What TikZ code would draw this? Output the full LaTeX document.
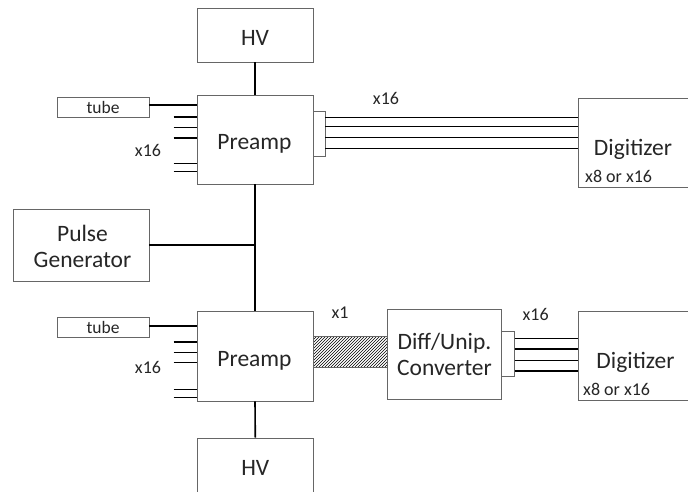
\documentclass[tikz,border=0pt]{standalone}
\usepackage{fontspec}
\setmainfont{Carlito}
\usetikzlibrary{patterns}
\begin{document}
\begin{tikzpicture}[x=1pt,y=-1pt,
  box/.style={draw=black!60, line width=0.8pt, fill=white, inner sep=0pt, align=center,
    font=\fontsize{23.5}{26.7}\selectfont, text=black!85},
  smallbox/.style={draw=black!60, line width=0.8pt, fill=white, inner sep=0pt,
    font=\fontsize{17.5}{20}\selectfont, text=black!85},
  lbl/.style={inner sep=0pt, font=\fontsize{18}{20}\selectfont, text=black!85},
  big/.style={inner sep=0pt, font=\fontsize{23.5}{26.7}\selectfont, text=black!85},
  wire/.style={line width=1.3pt, black},
  bus/.style={line width=1.6pt, black}]
\useasboundingbox (0,0) rectangle (688,491);

% boxes on the backbone
\node[box, minimum width=116pt, minimum height=54pt] (hvT) at (255,35) {};
\node[box, minimum width=116pt, minimum height=89pt] (preT) at (255,139.5) {};
\node[box, minimum width=116pt, minimum height=89.3pt] (preB) at (255,356.3) {};
\node[box, minimum width=116pt, minimum height=70pt] (hvB) at (255.3,473) {};
\node[box, minimum width=135.7pt, minimum height=72pt] (pulse) at (81.2,245) {};

\draw[bus] (hvT.south) -- (preT.north);
\draw[bus] (preT.south) -- (preB.north);
\draw[bus] (preB.south) -- (hvB.north);
\draw[wire] (pulse.east) -- (pulse.east -| preT.south);

% texts of the main boxes
\node[big] (hvTt) at (255,38.3) {HV};
\node[big] (preTt) at (254.5,144) {Preamp};
\node[big] (preBt) at (254.5,360.5) {Preamp};
\node[big] (hvBt) at (255.3,468) {HV};
\node[big, align=center] (pulset) at (82.5,246.5) {Pulse\\Generator};

% tubes and input stubs
\node[smallbox, minimum width=92pt, minimum height=20pt] (tubeT) at (103,107.5) {tube};
\node[smallbox, minimum width=92pt, minimum height=20pt] (tubeB) at (103,327.5) {tube};
\draw[wire] ([yshift=2.5pt]tubeT.east) -- ([yshift=2.5pt]tubeT.east -| preT.west);
\draw[wire] ([yshift=1.5pt]tubeB.east) -- ([yshift=1.5pt]tubeB.east -| preB.west);
\foreach \d in {22.3,32.7,43.3,69,76.7}
  \draw[wire] ([shift={(-23,\d)}]preT.north west) -- ([shift={(0,\d)}]preT.north west);
\foreach \d in {30.6,41,51.3,78.3,86}
  \draw[wire] ([shift={(-23,\d)}]preB.north west) -- ([shift={(0,\d)}]preB.north west);
\node[lbl] (x16a) at (148,150) {x16};
\node[lbl] (x16b) at (148,367) {x16};

% top readout chain
\node[box, minimum width=12pt, minimum height=44.3pt] (connT) at (319,133.8) {};
\node[box, minimum width=122pt, minimum height=89pt] (digT) at (639,142.8) {};
\foreach \yy in {117.3,126.7,137.3,148.3}
  \draw[wire] (connT.east |- 0,\yy) -- (digT.west |- 0,\yy);
\node[big] (digTt) at (633,149.5) {Digitizer};
\node[lbl, anchor=west] (digTs) at (585,176) {x8 or x16};
\node[lbl] (x16c) at (386,98) {x16};

% bottom readout chain
\node[draw=black!60, line width=0.8pt, pattern=north east lines, minimum width=74pt, minimum height=31pt, inner sep=0pt] (hatch) at (350,352.2) {};
\node[lbl] (x1) at (340,313) {x1};
\node[box, minimum width=114.4pt, minimum height=90pt] (conv) at (444.5,354.3) {Diff/Unip.\\Converter};
\node[box, minimum width=12.6pt, minimum height=45pt] (connB) at (508,353.5) {};
\node[box, minimum width=121.7pt, minimum height=89pt] (digB) at (639.2,356.2) {};
\foreach \yy in {338.3,349,360.7,371}
  \draw[wire] (connB.east |- 0,\yy) -- (digB.west |- 0,\yy);
\node[big] (digBt) at (635.5,362) {Digitizer};
\node[lbl, anchor=west] (digBs) at (583,389) {x8 or x16};
\node[lbl] (x16d) at (535.7,314) {x16};
\end{tikzpicture}
\end{document}
